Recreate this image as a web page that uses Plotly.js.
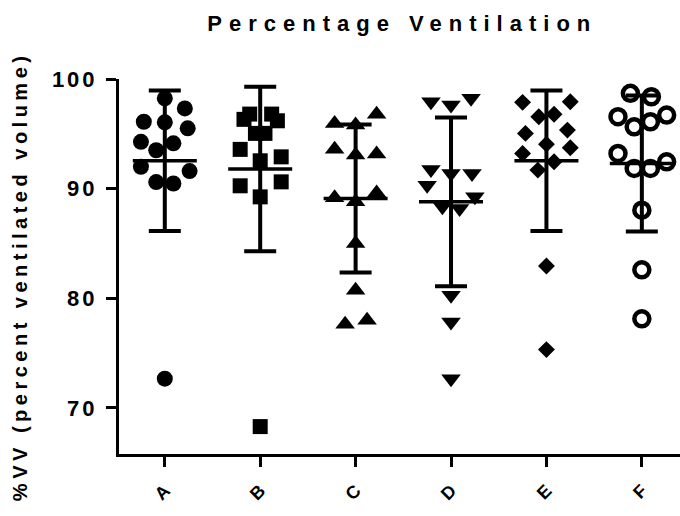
<!DOCTYPE html>
<html>
<head>
<meta charset="utf-8">
<script src="https://cdn.plot.ly/plotly-3.0.1.min.js"></script>
<style>
html,body{margin:0;padding:0;background:#fff;}
#chart{width:680px;height:516px;}
.gtitle{letter-spacing:7px;}
.annotation-text{letter-spacing:4.5px;}
.ytick text{letter-spacing:3px;}
</style>
</head>
<body>
<div id="chart"></div>
<script>
// ---- data ----
const categories = ["A", "B", "C", "D", "E", "F"];

const valuesA = [98.24, 97.32, 96.1, 96.05, 95.5, 94.27, 94.13, 93.5, 92.0, 91.6, 90.6, 90.47, 72.67];
const offsetsA = [0, 0.21, -0.22, 0, 0.24, -0.25, 0.09, -0.09, -0.25, 0.26, -0.09, 0.09, 0];

const valuesB = [96.8, 96.32, 96.8, 96.19, 95.04, 95.04, 93.58, 92.9, 92.54, 90.26, 90.62, 89.25, 68.3];
const offsetsB = [-0.11, -0.17, 0.12, 0.18, -0.05, 0.05, -0.21, 0.22, 0, -0.21, 0.22, 0, 0];

const valuesC = [95.95, 95.8, 96.78, 93.6, 93.06, 93.15, 89.16, 88.8, 89.6, 85.0, 80.73, 77.63, 77.99];
const offsetsC = [-0.22, 0, 0.22, -0.22, 0, 0.22, -0.22, 0, 0.22, 0, 0, -0.11, 0.12];

const valuesD = [97.93, 97.63, 98.24, 91.75, 91.39, 91.39, 90.32, 89.25, 88.34, 88.19, 80.27, 77.84, 72.67];
const offsetsD = [-0.21, 0, 0.21, -0.21, 0, 0.22, -0.25, 0.25, -0.09, 0.09, 0, 0, 0];

const valuesE = [97.87, 97.93, 96.56, 96.78, 95.04, 95.34, 94.06, 93.73, 93.21, 92.45, 91.69, 82.95, 75.32];
const offsetsE = [-0.25, 0.25, -0.08, 0.08, -0.22, 0.22, 0, 0.25, -0.25, 0.08, -0.09, 0, 0];

const valuesF = [98.69, 98.38, 96.56, 96.71, 95.64, 96.1, 93.21, 92.45, 91.84, 91.84, 88.04, 82.6, 78.13];
const offsetsF = [-0.12, 0.10, -0.25, 0.26, -0.08, 0.09, -0.25, 0.26, -0.08, 0.09, 0, 0, 0];

const means = [92.54, 91.8, 89.1, 88.8, 92.54, 92.3];
const sds = [6.4, 7.5, 6.75, 7.7, 6.4, 6.2];

const yTitle = "%VV (percent ventilated volume)";

// ---- build traces ----
const groups = [
  {v: valuesA, o: offsetsA, sym: "circle", size: 16, lw: 0},
  {v: valuesB, o: offsetsB, sym: "square", size: 15, lw: 0},
  {v: valuesC, o: offsetsC, sym: "triangle-up", size: 17, lw: 0},
  {v: valuesD, o: offsetsD, sym: "triangle-down", size: 17, lw: 0},
  {v: valuesE, o: offsetsE, sym: "diamond", size: 13, lw: 0},
  {v: valuesF, o: offsetsF, sym: "circle-open", size: 15, lw: 4.5}
];

const traces = groups.map((g, i) => ({
  type: "scatter",
  mode: "markers",
  x: g.o.map(d => i + d),
  y: g.v,
  cliponaxis: false,
  hoverinfo: "y",
  marker: {symbol: g.sym, size: g.size, color: "#000", line: {color: "#000", width: g.lw}}
}));

const xIdx = categories.map((c, i) => i);

// SD error bars
traces.push({
  type: "scatter",
  mode: "markers",
  x: xIdx,
  y: means,
  cliponaxis: false,
  marker: {size: 1, color: "rgba(0,0,0,0)"},
  error_y: {type: "data", array: sds, visible: true, color: "#000", thickness: 4, width: 16},
  hoverinfo: "skip"
});
// mean lines
traces.push({
  type: "scatter",
  mode: "markers",
  x: xIdx,
  y: means,
  cliponaxis: false,
  marker: {size: 1, color: "rgba(0,0,0,0)"},
  error_y: {type: "data", array: means.map(() => 0), visible: true, color: "#000", thickness: 3.5, width: 32},
  hoverinfo: "skip"
});

const fontFam = "Liberation Sans, Arial, Helvetica, sans-serif";

const layout = {
  width: 680,
  height: 516,
  paper_bgcolor: "#fff",
  plot_bgcolor: "#fff",
  showlegend: false,
  margin: {l: 119, r: 0, t: 79, b: 62},
  title: {
    text: "Percentage Ventilation",
    font: {family: fontFam, size: 22, color: "#000", weight: "bold"},
    x: 0.505, xref: "paper", xanchor: "center",
    y: 0.955, yref: "container", yanchor: "middle"
  },
  xaxis: {
    range: [-0.48, 5.4],
    tickvals: xIdx,
    ticktext: categories,
    tickangle: -45,
    ticklabelstandoff: 6,
    showgrid: false,
    zeroline: false,
    showline: true,
    linecolor: "#000",
    linewidth: 3,
    ticks: "outside",
    ticklen: 10,
    tickwidth: 3,
    tickcolor: "#000",
    tickfont: {family: fontFam, size: 18, color: "#000", weight: "bold"}
  },
  yaxis: {
    range: [65.8, 100],
    tickvals: [70, 80, 90, 100],
    ticktext: ["70", "80", "90", "100"],
    ticklabelstandoff: 4,
    showgrid: false,
    zeroline: false,
    showline: true,
    linecolor: "#000",
    linewidth: 3,
    ticks: "outside",
    ticklen: 10,
    tickwidth: 3,
    tickcolor: "#000",
    tickfont: {family: fontFam, size: 22, color: "#000", weight: "bold"}
  },
  annotations: [{
    text: yTitle,
    textangle: -90,
    xref: "paper", yref: "paper",
    x: -0.176, y: 0.475,
    xanchor: "center", yanchor: "middle",
    showarrow: false,
    font: {family: fontFam, size: 20, color: "#000", weight: "bold"}
  }]
};

Plotly.newPlot("chart", traces, layout, {displayModeBar: false, staticPlot: true});
</script>
</body>
</html>
